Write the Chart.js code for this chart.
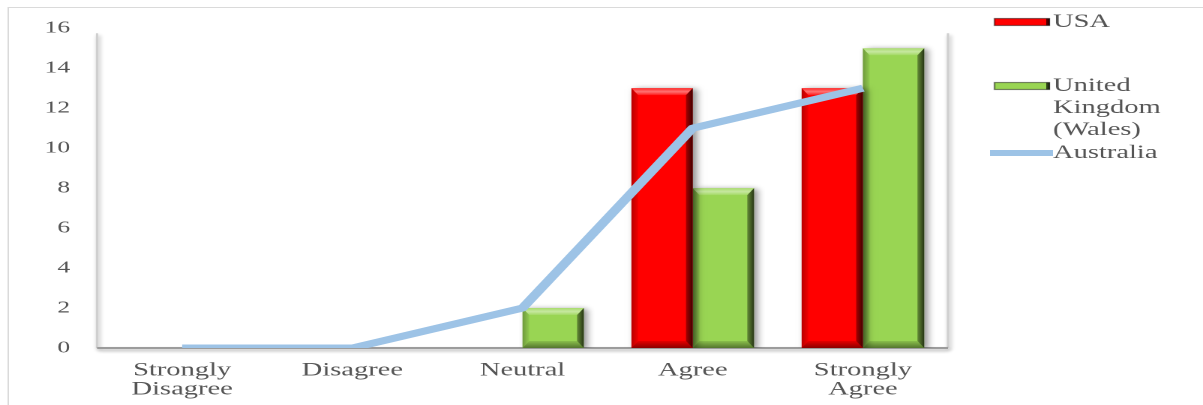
<!DOCTYPE html>
<html>
<head>
<meta charset="utf-8">
<script src="https://cdn.jsdelivr.net/npm/chart.js@4.4.1/dist/chart.umd.min.js"></script>
<style>
  html, body { margin: 0; padding: 0; background: #fff; overflow: hidden; }
  /* the chart is laid out narrow and stretched sideways */
  #wrap { width: 802px; height: 405px; transform: scaleX(1.5); transform-origin: 0 0; }
</style>
</head>
<body>
<div id="wrap"><canvas id="surveyChart" width="802" height="405"></canvas></div>
<script>
const categories = [['Strongly', 'Disagree'], 'Disagree', 'Neutral', 'Agree', ['Strongly', 'Agree']];
const usaValues = [0, 0, 0, 13, 13];
const ukValues = [0, 0, 2, 8, 15];
const australiaValues = [0, 0, 2, 11, 13];
const seriesNames = ['USA', 'United Kingdom (Wales)', 'Australia'];
const legendLines = [['USA'], ['United', 'Kingdom', '(Wales)'], ['Australia']];
const yMax = 16;
const yStep = 2;

const serif = '"Liberation Serif", "Times New Roman", serif';
const textGrey = '#555555';

// shadow offsets/blur are in device pixels, so scale them by the ratio
const dp = (chart, v) => v * chart.currentDevicePixelRatio;

function facet(ctx, pts, fill) {
    ctx.beginPath();
    ctx.moveTo(pts[0][0], pts[0][1]);
    for (let i = 1; i < pts.length; i++) ctx.lineTo(pts[i][0], pts[i][1]);
    ctx.closePath();
    ctx.fillStyle = fill;
    ctx.fill();
}

// back wall edges, floor and the outer frame
const wallPlugin = {
    id: 'walls',
    beforeDatasetsDraw(chart) {
        const { ctx, chartArea: a } = chart;
        const floor = chart.scales.y.getPixelForValue(0);
        ctx.save();
        ctx.strokeStyle = '#dadada';
        ctx.lineWidth = 1;
        ctx.beginPath();
        ctx.moveTo(5.5, chart.height);
        ctx.lineTo(5.5, 7.5);
        ctx.lineTo(chart.width, 7.5);
        ctx.stroke();

        ctx.shadowColor = 'rgba(0,0,0,0.35)';
        ctx.shadowBlur = dp(chart, 3);
        ctx.shadowOffsetX = dp(chart, 1);
        ctx.shadowOffsetY = dp(chart, 2);
        ctx.strokeStyle = '#cfcfcf';
        ctx.lineWidth = 1.5;
        ctx.beginPath();
        ctx.moveTo(a.left, a.top + 5);
        ctx.lineTo(a.left, floor);
        ctx.moveTo(a.right, a.top + 5);
        ctx.lineTo(a.right, floor);
        ctx.stroke();
        ctx.strokeStyle = '#9c9c9c';
        ctx.lineWidth = 2;
        ctx.beginPath();
        ctx.moveTo(a.left, floor);
        ctx.lineTo(a.right, floor);
        ctx.stroke();
        ctx.restore();
    }
};

// drop shadow under the bars, then bevelled edges on top of each one
const bevelPlugin = {
    id: 'bevel',
    beforeDatasetDraw(chart, args) {
        if (args.meta.type !== 'bar') return;
        const ctx = chart.ctx;
        ctx.save();
        ctx.shadowColor = 'rgba(0,0,0,0.45)';
        ctx.shadowBlur = dp(chart, 5);
        ctx.shadowOffsetX = dp(chart, 2.5);
        ctx.shadowOffsetY = dp(chart, 1);
    },
    afterDatasetDraw(chart, args) {
        if (args.meta.type !== 'bar') return;
        const ctx = chart.ctx;
        ctx.restore();
        args.meta.data.forEach(bar => {
            const { x, y, base, width } = bar.getProps(['x', 'y', 'base', 'width'], true);
            const l = x - width / 2, r = x + width / 2;
            const t = Math.min(y, base), b = Math.max(y, base);
            if (b - t < 1) return;
            const bh = Math.min(4.5, width / 4);
            const bv = Math.min(7, (b - t) / 3);

            const left = ctx.createLinearGradient(l, 0, l + bh, 0);
            left.addColorStop(0, 'rgba(0,0,0,0.28)');
            left.addColorStop(1, 'rgba(0,0,0,0.05)');
            facet(ctx, [[l, t], [l + bh, t + bv], [l + bh, b - bv], [l, b]], left);

            const right = ctx.createLinearGradient(r - bh, 0, r, 0);
            right.addColorStop(0, 'rgba(0,0,0,0.35)');
            right.addColorStop(1, 'rgba(0,0,0,0.75)');
            facet(ctx, [[r, t], [r, b], [r - bh, b - bv], [r - bh, t + bv]], right);

            const top = ctx.createLinearGradient(0, t, 0, t + bv);
            top.addColorStop(0, 'rgba(255,255,255,0.15)');
            top.addColorStop(0.5, 'rgba(255,255,255,0.45)');
            top.addColorStop(1, 'rgba(255,255,255,0.1)');
            facet(ctx, [[l, t], [r, t], [r - bh, t + bv], [l + bh, t + bv]], top);

            const bottom = ctx.createLinearGradient(0, b - bv, 0, b);
            bottom.addColorStop(0, 'rgba(0,0,0,0.1)');
            bottom.addColorStop(1, 'rgba(0,0,0,0.45)');
            facet(ctx, [[l, b], [l + bh, b - bv], [r - bh, b - bv], [r, b]], bottom);
        });
    }
};

// legend on the right, one entry per series
const legendPlugin = {
    id: 'sideLegend',
    afterDraw(chart, args, opts) {
        const ctx = chart.ctx;
        ctx.save();
        ctx.font = '19px ' + serif;
        ctx.fillStyle = textGrey;
        ctx.textBaseline = 'middle';
        opts.rows.forEach((row, i) => {
            const ds = chart.data.datasets.find(d => d.label === seriesNames[i]);
            if (ds.type === 'line') {
                ctx.strokeStyle = ds.borderColor;
                ctx.lineWidth = 6;
                ctx.beginPath();
                ctx.moveTo(opts.lineX0, row.y);
                ctx.lineTo(opts.textX, row.y);
                ctx.stroke();
            } else {
                const x0 = opts.boxX0, x1 = opts.textX - 2.5;
                ctx.fillStyle = ds.backgroundColor;
                ctx.fillRect(x0, row.y - 3.5, x1 - x0, 7);
                ctx.strokeStyle = 'rgba(0,0,0,0.45)';
                ctx.lineWidth = 1.2;
                ctx.strokeRect(x0, row.y - 3.5, x1 - x0, 7);
                ctx.fillStyle = 'rgba(0,0,0,0.7)';
                ctx.fillRect(x1 - 2, row.y - 3.5, 2.5, 7);
                ctx.fillStyle = textGrey;
            }
            legendLines[i].forEach((line, k) => {
                ctx.fillText(line, opts.textX, row.y + k * 22);
            });
        });
        ctx.restore();
    }
};

new Chart(document.getElementById('surveyChart'), {
    type: 'bar',
    data: {
        labels: categories,
        datasets: [
            {
                type: 'line', label: seriesNames[2], data: australiaValues, order: 0,
                borderColor: '#9DC3E6', borderWidth: 7, pointRadius: 0,
                borderCapStyle: 'butt', borderJoinStyle: 'round', tension: 0, fill: false
            },
            { label: seriesNames[0], data: usaValues, order: 1, backgroundColor: '#FF0000', borderWidth: 0 },
            { label: seriesNames[1], data: ukValues, order: 2, backgroundColor: '#99D553', borderWidth: 0 }
        ]
    },
    options: {
        responsive: false,
        animation: false,
        devicePixelRatio: 2,
        layout: { padding: { left: 0, right: 170, top: 28, bottom: 0 } },
        datasets: { bar: { categoryPercentage: 0.72, barPercentage: 1.0 } },
        scales: {
            x: {
                grid: { display: false, drawTicks: false },
                border: { display: false },
                ticks: {
                    padding: 13, color: textGrey, maxRotation: 0, autoSkip: false,
                    font: { family: serif, size: 19, lineHeight: 1.0 }
                },
                afterFit(scale) { scale.height = 57; }
            },
            y: {
                min: 0, max: yMax,
                grid: { display: false, drawTicks: false },
                border: { display: false },
                ticks: { stepSize: yStep, padding: 18, color: textGrey, font: { family: serif, size: 17 } },
                afterFit(scale) { scale.width = 64.7; }
            }
        },
        plugins: {
            legend: { display: false },
            tooltip: { enabled: false },
            sideLegend: {
                boxX0: 663, lineX0: 660, textX: 702,
                rows: [{ y: 22 }, { y: 86 }, { y: 153 }]
            }
        }
    },
    plugins: [wallPlugin, bevelPlugin, legendPlugin]
});
</script>
</body>
</html>
